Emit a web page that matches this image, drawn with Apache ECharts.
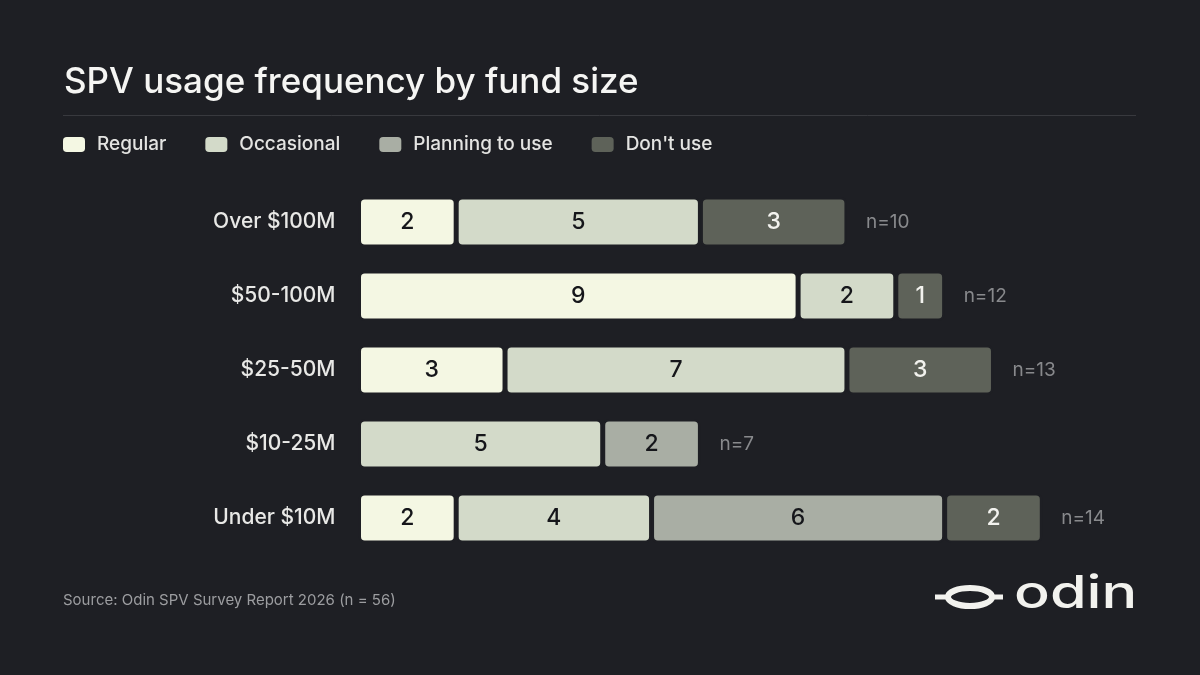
<!DOCTYPE html>
<html>
<head>
<meta charset="utf-8">
<script src="https://cdn.jsdelivr.net/npm/echarts@6/dist/echarts.min.js"></script>
<style>
  html, body { margin: 0; padding: 0; background: #1e1f24; }
  #chart { width: 1200px; height: 675px; }
</style>
</head>
<body>
<div id="chart"></div>
<script>
var categories = ['Over $100M', '$50-100M', '$25-50M', '$10-25M', 'Under $10M']
var seriesNames = ['Regular', 'Occasional', 'Planning to use', "Don't use"]
var regular = [2, 9, 3, null, 2]
var occasional = [5, 2, 7, 5, 4]
var planning = [null, null, null, 2, 6]
var dontUse = [3, 1, 3, null, 2]
var totals = [10, 12, 13, 7, 14]

var bg = '#1e1f24'
var colors = ['#f4f7e3', '#d3dac9', '#a9aea4', '#5e6259']
var labelColors = ['#15161a', '#15161a', '#15161a', '#f2f2ee']
var values = [regular, occasional, planning, dontUse]

var myChart = echarts.init(document.getElementById('chart'))

var series = values.map(function (vals, i) {
  return {
    name: seriesNames[i],
    type: 'bar',
    stack: 'total',
    barWidth: 50,
    data: vals,
    itemStyle: {
      color: colors[i],
      borderColor: bg,
      borderWidth: 2.5,
      borderRadius: 5
    },
    label: {
      show: true,
      position: 'inside',
      color: labelColors[i],
      fontFamily: 'Inter',
      fontWeight: 500,
      fontSize: 23
    }
  }
})

series.push({
  name: 'n',
  type: 'scatter',
  symbolSize: 0,
  silent: true,
  data: totals.map(function (t, i) { return [t, categories[i]] }),
  label: {
    show: true,
    position: 'right',
    distance: 19,
    color: '#a3a4a6',
    fontFamily: 'Inter',
    fontSize: 19,
    formatter: function (p) { return 'n=' + p.value[0] }
  }
})

var option = {
  backgroundColor: bg,
  animation: false,
  title: {
    text: 'SPV usage frequency by fund size',
    left: 59,
    top: 60,
    textStyle: {
      color: '#f5f5f3',
      fontFamily: 'Inter',
      fontWeight: 500,
      fontSize: 35
    }
  },
  legend: {
    data: seriesNames,
    left: 58,
    top: 130,
    icon: 'roundRect',
    itemWidth: 22,
    itemHeight: 15,
    itemGap: 39,
    itemStyle: { borderWidth: 0 },
    textStyle: {
      color: '#e4e4e2',
      fontFamily: 'Inter',
      fontWeight: 500,
      fontSize: 19,
      padding: [0, 0, 0, 7]
    }
  },
  grid: {
    left: 358.5,
    right: 60,
    top: 185,
    height: 370
  },
  xAxis: {
    type: 'value',
    min: 0,
    max: 16,
    show: false
  },
  yAxis: {
    type: 'category',
    inverse: true,
    data: categories,
    axisLine: { show: false },
    axisTick: { show: false },
    splitLine: { show: false },
    axisLabel: {
      margin: 23,
      color: '#e8e8e6',
      fontFamily: 'Inter',
      fontWeight: 500,
      fontSize: 21
    }
  },
  series: series,
  graphic: [
    {
      type: 'line',
      shape: { x1: 63, y1: 115.5, x2: 1136, y2: 115.5 },
      style: { stroke: '#38393e', lineWidth: 1 }
    },
    {
      type: 'text',
      left: 63,
      top: 593,
      style: {
        text: 'Source: Odin SPV Survey Report 2026 (n = 56)',
        fill: '#9c9da0',
        font: '15px Inter'
      }
    },
    {
      type: 'line',
      shape: { x1: 935, y1: 597, x2: 1003, y2: 597 },
      style: { stroke: '#f2f2ee', lineWidth: 5 }
    },
    {
      type: 'ellipse',
      shape: { cx: 970, cy: 597, rx: 22, ry: 9 },
      style: { fill: bg, stroke: '#f2f2ee', lineWidth: 6 }
    },
    {
      type: 'text',
      x: 1014,
      y: 572,
      scaleX: 1.32,
      style: {
        text: 'odin',
        fill: '#f2f2ee',
        font: '500 45px Inter'
      }
    }
  ]
}

myChart.setOption(option)
</script>
</body>
</html>
